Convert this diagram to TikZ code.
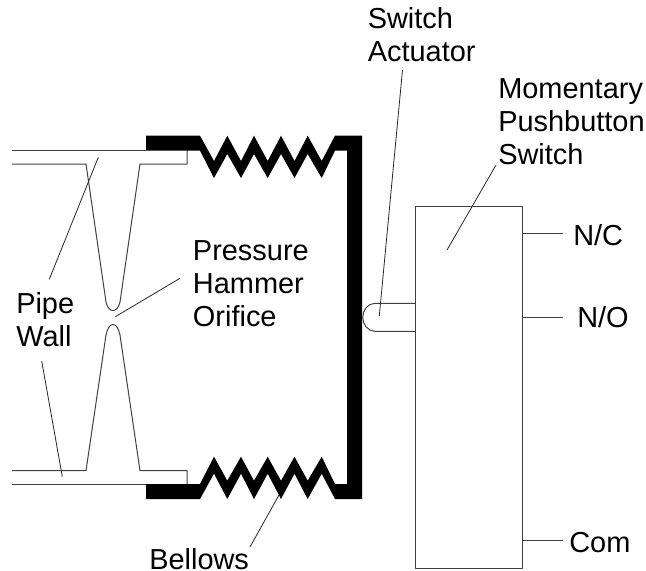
\documentclass[tikz,border=0pt]{standalone}
\usepackage{fontspec}
\setmainfont{Liberation Sans}
\usetikzlibrary{calc}

\tikzset{
  wall/.style={line width=0.75pt, black!75},
  leader/.style={line width=0.6pt, black!85},
  lbl/.style={anchor=base west, inner sep=0pt, align=left, font=\fontsize{21.7}{24.75}\selectfont},
}

\begin{document}
\begin{tikzpicture}[x=0.75pt, y=-0.75pt, line join=round]
  \useasboundingbox (0,0) rectangle (646,571);

  % pipe wall and orifice
  \draw[wall] (12,150) -- (146,150);
  \draw[wall] (12,484) -- (146,484);
  \draw[wall] (12,164) -- (86,164) -- (106,302)
    .. controls (107.5,308) and (110,310.5) .. (113,310.5)
    .. controls (116,310.5) and (118.5,308) .. (120,302)
    -- (140,164) -- (187,164) -- (187,150);
  \draw[wall] (12,470.7) -- (86,470.7) -- (106,335)
    .. controls (107.5,328) and (110,324.5) .. (113,324.5)
    .. controls (116,324.5) and (118.5,328) .. (120,335)
    -- (140,470.7) -- (187,470.7) -- (187,484);

  % bellows and plate
  \fill[black] (146,135.7) -- (200,135.7) -- (214,161) -- (227.3,135.7) -- (241,161)
    -- (254,135.7) -- (267.7,161) -- (281,135.7) -- (294.5,161) -- (307.7,135.7)
    -- (321.7,161) -- (335,135.7) -- (362,135.7) -- (362,499) -- (335,499)
    -- (321.7,473.7) -- (307.7,499) -- (294.5,473.7) -- (281,499) -- (267.7,473.7)
    -- (254,499) -- (241,473.7) -- (227.3,499) -- (214,473.7) -- (200,499) -- (146,499)
    -- (146,484) -- (200,484) -- (214,456.7) -- (227.3,480.7) -- (241,456.7)
    -- (254,480.7) -- (267.7,456.7) -- (281,480.7) -- (294.5,456.7) -- (307.7,480.7)
    -- (321.7,456.7) -- (335,484) -- (347,484) -- (347,150.7) -- (335,150.7)
    -- (321.7,178) -- (307.7,154) -- (294.5,178) -- (281,154) -- (267.7,178)
    -- (254,154) -- (241,178) -- (227.3,154) -- (214,178) -- (200,150.7) -- (146,150.7) -- cycle;

  % switch
  \draw[wall] (415.7,206) rectangle (522.7,568);
  \draw[wall] (415.7,303.3) -- (375,303.3)
    .. controls (368,303.3) and (362.7,310) .. (362.7,317.3)
    .. controls (362.7,324.6) and (368,331.3) .. (375,331.3) -- (415.7,331.3);

  % labels
  \node[lbl] (actuator) at (367.5,61.5) {Switch\\Actuator};
  \node[lbl] (momentary) at (498,164) {Momentary\\Pushbutton\\Switch};
  \node[lbl] (pressure) at (192.7,326.5) {Pressure\\Hammer\\Orifice};
  \node[lbl] (pipewall) at (16,346) {Pipe\\Wall};
  \node[lbl] (bellows) at (149,569.5) {Bellows};
  \node[lbl] (nc) at (573,245.5) {N/C};
  \node[lbl] (no) at (577,327.5) {N/O};
  \node[lbl] (com) at (569,552.5) {Com};

  % contacts
  \draw[wall] (522.7,233.7) -- (563,233.7);
  \draw[wall] (522.7,317.7) -- (563,317.7);
  \draw[wall] (522.7,540.3) -- (563,540.3);

  % leaders
  \draw[leader] (402.5,70) -- (379.3,316);
  \draw[leader] (496,165) -- (447,250);
  \draw[leader] (180,278.3) -- (115.3,316.7);
  \draw[leader] (49.3,279.3) -- (98.3,157.3);
  \draw[leader] (41.7,361) -- (62.3,476.7);
  \draw[leader] (250,547) -- (279,495);
\end{tikzpicture}
\end{document}
